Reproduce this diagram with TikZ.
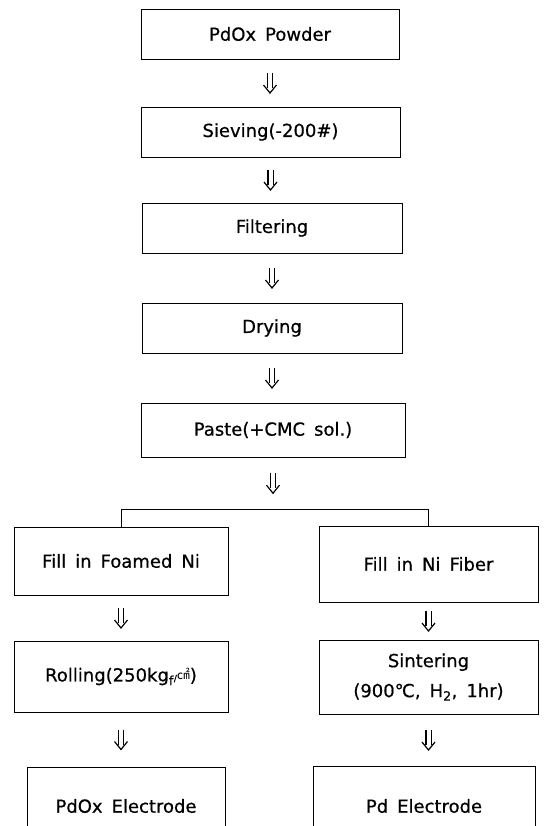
\documentclass[tikz,border=0pt]{standalone}
\usepackage{fontspec}
\setmainfont{DejaVu Sans}[FakeBold=0.6]
\newfontfamily\cjkfont{Noto Sans CJK KR}
\usetikzlibrary{arrows.meta,calc}
\newcommand\boxfont{\fontsize{18}{30}\selectfont\spaceskip=0.5em plus 0.1em\relax}
\newcommand\flowarr[2]{%
  \coordinate (m) at ($(#1.south)!0.5!(#1.south |- #2.north)$);
  \draw[flow] ($(m)+(-2.6,-10)$) -- ($(m)+(-2.6,5)$);
  \draw[flow] ($(m)+(2.6,-10)$) -- ($(m)+(2.6,5)$);
  \draw[flow] ($(m)+(-6.5,2)$) -- ($(m)+(0,10)$) -- ($(m)+(6.5,2)$);}
\begin{document}
\begin{tikzpicture}[x=1pt,y=-1pt,
  box/.style={draw, line width=0.9pt, inner sep=2pt, align=center, font=\boxfont},
  flow/.style={line width=1.2pt, line join=miter},
  bracket/.style={line width=1pt}]
\useasboundingbox (0,0) rectangle (545,826);
\clip (0,0) rectangle (545,826);
\node[box, minimum width=258, minimum height=50] (b1) at (270,34) {PdOx Powder};
\node[box, minimum width=259, minimum height=50] (b2) at (270.5,132) {Sieving(-200\#)};
\node[box, minimum width=260, minimum height=50] (b3) at (272,228) {Filtering};
\node[box, minimum width=260, minimum height=50] (b4) at (272,328) {Drying};
\node[box, minimum width=264, minimum height=54] (b5) at (273,430) {Paste(+CMC sol.)};
\coordinate (br) at (273,509);
\node[box, minimum width=214, minimum height=68] (l1) at (121,561) {Fill in Foamed Ni};
\node[box, minimum width=219, minimum height=76] (r1) at (428.5,564) {Fill in Ni Fiber};
\node[box, minimum width=214, minimum height=71] (l2) at (121,676.5) {Rolling(250kg\textsubscript{f}{\small/\raisebox{0.3ex}{\cjkfont\fontsize{13}{13}\selectfont ㎠}})};
\node[box, minimum width=219, minimum height=74] (r2) at (428.5,677) {Sintering\\(900℃, H\textsubscript{2}, 1hr)};
\node[box, minimum width=198, minimum height=78] (l3) at (126,806) {PdOx Electrode};
\node[box, minimum width=222, minimum height=80] (r3) at (424,806) {Pd Electrode};
\flowarr{b1}{b2}
\flowarr{b2}{b3}
\flowarr{b3}{b4}
\flowarr{b4}{b5}
\flowarr{b5}{br}
\draw[bracket] (l1.north) -- (l1.north |- br) -- (r1.north |- br) -- (r1.north);
\flowarr{l1}{l2}
\flowarr{r1}{r2}
\flowarr{l2}{l3}
\flowarr{r2}{r3}
\end{tikzpicture}
\end{document}
